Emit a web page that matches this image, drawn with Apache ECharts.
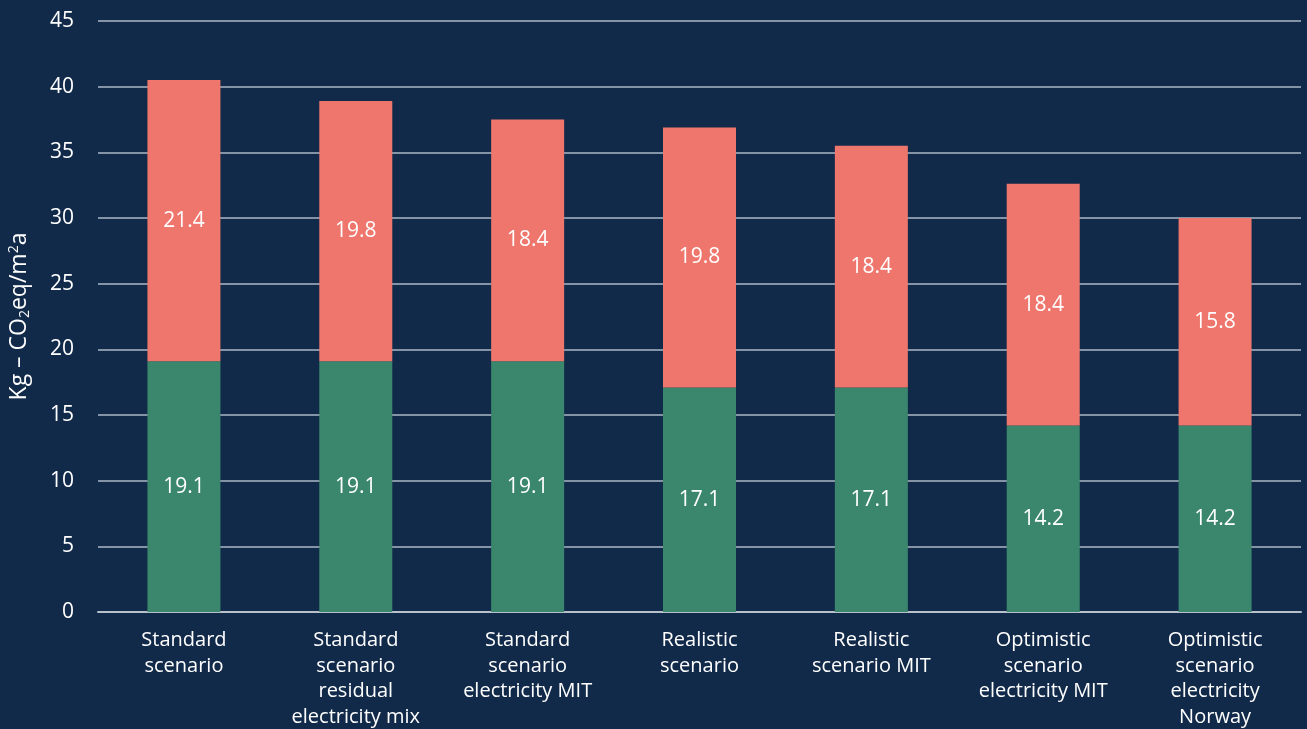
<!DOCTYPE html>
<html>
<head>
<meta charset="utf-8">
<script src="https://cdn.jsdelivr.net/npm/echarts@6/dist/echarts.min.js"></script>
<style>
html,body{margin:0;padding:0;background:#122a4a;}
#chart{width:1307px;height:729px;}
</style>
</head>
<body>
<div id="chart"></div>
<script>
const categories = [
  "Standard\nscenario",
  "Standard\nscenario\nresidual\nelectricity mix",
  "Standard\nscenario\nelectricity MIT",
  "Realistic\nscenario",
  "Realistic\nscenario MIT",
  "Optimistic\nscenario\nelectricity MIT",
  "Optimistic\nscenario\nelectricity\nNorway"
];
const greenValues = [19.1, 19.1, 19.1, 17.1, 17.1, 14.2, 14.2];
const redValues = [21.4, 19.8, 18.4, 19.8, 18.4, 18.4, 15.8];

const FONT = "'Open Sans', 'Noto Sans', sans-serif";
const chart = echarts.init(document.getElementById('chart'), null, {renderer: 'canvas'});
const labelStyle = {
  show: true, position: 'inside', color: '#ffffff', fontSize: 21, fontFamily: FONT,
  formatter: p => p.value.toFixed(1)
};
chart.setOption({
  backgroundColor: '#122a4a',
  animation: false,
  grid: {left: 98, right: 6, top: 21, bottom: 117, containLabel: false, outerBoundsMode: 'none'},
  xAxis: {
    type: 'category',
    data: categories,
    axisTick: {show: false},
    axisLine: {lineStyle: {color: '#b8c0cc', width: 2}},
    axisLabel: {color: '#ffffff', fontSize: 20, fontFamily: FONT, lineHeight: 25.5, margin: 16, interval: 0}
  },
  yAxis: {
    type: 'value',
    min: 0, max: 45, interval: 5,
    axisLine: {show: false},
    axisTick: {show: false},
    splitLine: {lineStyle: {color: '#8593a6', width: 2}},
    axisLabel: {color: '#ffffff', fontSize: 21, fontFamily: FONT, margin: 24},
    name: '{t|Kg – CO}{sub|2}{t|eq/m}{sup|2}{t|a}',
    nameLocation: 'middle',
    nameGap: 66,
    nameRotate: 90,
    nameTextStyle: {
      color: '#ffffff', fontFamily: FONT,
      rich: {
        t: {fontSize: 23, color: '#ffffff', fontFamily: FONT, verticalAlign: 'middle'},
        sub: {fontSize: 14, color: '#ffffff', fontFamily: FONT, padding: [11, 0, 0, 0]},
        sup: {fontSize: 14, color: '#ffffff', fontFamily: FONT, padding: [0, 0, 11, 0]}
      }
    }
  },
  series: [
    {name: 'green', type: 'bar', stack: 'total', data: greenValues, barWidth: 73,
     itemStyle: {color: '#3b876d'}, label: labelStyle},
    {name: 'red', type: 'bar', stack: 'total', data: redValues, barWidth: 73,
     itemStyle: {color: '#ee766c'}, label: labelStyle}
  ]
});
</script>
</body>
</html>
